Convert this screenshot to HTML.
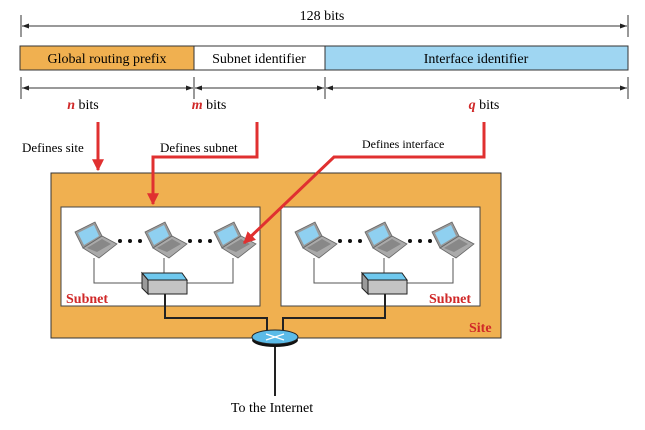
<!DOCTYPE html>
<html><head><style>body{margin:0;background:#fff}svg{display:block}text{font-family:"Liberation Serif",serif}</style></head>
<body>
<svg width="645" height="430" viewBox="0 0 645 430">
<defs>
<marker id="ah" viewBox="0 0 10 10" refX="10" refY="5" markerWidth="7" markerHeight="7" orient="auto-start-reverse"><path d="M0,1.5 L10,5 L0,8.5 z" fill="#222"/></marker>
<marker id="rh" viewBox="0 0 10 10" refX="9" refY="5" markerWidth="4" markerHeight="4" orient="auto"><path d="M0,0 L10,5 L0,10 z" fill="#e03030"/></marker>
<g id="lap">
<polygon points="0,10 20,0 27,14 8,26" fill="#999" stroke="#666" stroke-width="0.8"/>
<polygon points="3,11 19,3 24,14 9,23" fill="#8fd0f0"/>
<polygon points="8,26 27,14 42,22 24,36" fill="#aaa" stroke="#666" stroke-width="0.8"/>
<polygon points="12,26 27,17 36,22 22,30" fill="#888"/>
</g>
<g id="sw">
<polygon points="-23,-10 17,-10 22,-3 -17,-3" fill="#6ec8ee" stroke="#222" stroke-width="1"/>
<polygon points="-23,-10 -17,-3 -17,11 -23,5" fill="#9a9a9a" stroke="#222" stroke-width="1"/>
<rect x="-17" y="-3" width="39" height="14" fill="#c4c4c4" stroke="#222" stroke-width="1"/>
</g>
</defs>
<!-- top -->
<text x="322" y="20" font-size="14" text-anchor="middle">128 bits</text>
<line x1="21" y1="15" x2="21" y2="37" stroke="#333"/>
<line x1="628" y1="15" x2="628" y2="37" stroke="#333"/>
<line x1="22" y1="26" x2="627" y2="26" stroke="#333" marker-start="url(#ah)" marker-end="url(#ah)"/>
<rect x="20" y="46" width="174" height="24" fill="#f0b050" stroke="#333"/>
<rect x="194" y="46" width="131" height="24" fill="#fff" stroke="#333"/>
<rect x="325" y="46" width="303" height="24" fill="#9fd6f2" stroke="#333"/>
<text x="107" y="63" font-size="14" text-anchor="middle">Global routing prefix</text>
<text x="259" y="63" font-size="14" text-anchor="middle">Subnet identifier</text>
<text x="476" y="63" font-size="14" text-anchor="middle">Interface identifier</text>
<g stroke="#333">
<line x1="21" y1="77" x2="21" y2="99"/><line x1="194" y1="77" x2="194" y2="99"/><line x1="325" y1="77" x2="325" y2="99"/><line x1="628" y1="77" x2="628" y2="99"/>
<line x1="22" y1="88" x2="193" y2="88" marker-start="url(#ah)" marker-end="url(#ah)"/>
<line x1="195" y1="88" x2="324" y2="88" marker-start="url(#ah)" marker-end="url(#ah)"/>
<line x1="326" y1="88" x2="627" y2="88" marker-start="url(#ah)" marker-end="url(#ah)"/>
</g>
<text x="83" y="109" font-size="14" text-anchor="middle"><tspan fill="#d02828" font-weight="bold" font-style="italic">n</tspan> bits</text>
<text x="209" y="109" font-size="14" text-anchor="middle"><tspan fill="#d02828" font-weight="bold" font-style="italic">m</tspan> bits</text>
<text x="484" y="109" font-size="14" text-anchor="middle"><tspan fill="#d02828" font-weight="bold" font-style="italic">q</tspan> bits</text>
<text x="22" y="152" font-size="13">Defines site</text>
<text x="160" y="152" font-size="13">Defines subnet</text>
<text x="362" y="148" font-size="12">Defines interface</text>
<!-- site -->
<rect x="51" y="173" width="450" height="165" fill="#f0b050" stroke="#333"/>
<rect x="61" y="207" width="199" height="99" fill="#fff" stroke="#444"/>
<rect x="281" y="207" width="199" height="99" fill="#fff" stroke="#444"/>
<!-- subnet wiring -->
<g stroke="#555" fill="none" stroke-width="1">
<polyline points="94,258 94,283 233,283 233,258"/><line x1="164" y1="258" x2="164" y2="283"/>
<polyline points="314,258 314,283 453,283 453,258"/><line x1="384" y1="258" x2="384" y2="283"/>
</g>
<g stroke="#222" fill="none" stroke-width="2">
<polyline points="165,294 165,318 267,318 267,333"/>
<polyline points="385,294 385,318 283,318 283,333"/>
<line x1="275" y1="345" x2="275" y2="396"/>
</g>
<use href="#lap" x="75" y="222"/><use href="#lap" x="145" y="222"/><use href="#lap" x="214" y="222"/>
<use href="#lap" x="295" y="222"/><use href="#lap" x="365" y="222"/><use href="#lap" x="432" y="222"/>
<g fill="#111">
<circle cx="120" cy="241" r="2"/><circle cx="130" cy="241" r="2"/><circle cx="140" cy="241" r="2"/>
<circle cx="190" cy="241" r="2"/><circle cx="200" cy="241" r="2"/><circle cx="210" cy="241" r="2"/>
<circle cx="340" cy="241" r="2"/><circle cx="350" cy="241" r="2"/><circle cx="360" cy="241" r="2"/>
<circle cx="410" cy="241" r="2"/><circle cx="420" cy="241" r="2"/><circle cx="430" cy="241" r="2"/>
</g>
<use href="#sw" x="165" y="283"/><use href="#sw" x="385" y="283"/>
<!-- router -->
<ellipse cx="275" cy="340" rx="23" ry="7" fill="#111"/>
<ellipse cx="275" cy="337" rx="23" ry="7" fill="#5bbbe8" stroke="#222"/>
<g stroke="#fff" stroke-width="1.2"><line x1="266" y1="334" x2="284" y2="340"/><line x1="266" y1="340" x2="284" y2="334"/></g>
<text x="272" y="412" font-size="14" text-anchor="middle">To the Internet</text>
<text x="66" y="303" font-size="14" font-weight="bold" fill="#d02828">Subnet</text>
<text x="429" y="303" font-size="14" font-weight="bold" fill="#d02828">Subnet</text>
<text x="469" y="332" font-size="14" font-weight="bold" fill="#d02828">Site</text>
<!-- red arrows -->
<g stroke="#e03030" stroke-width="3" fill="none">
<polyline points="98,122 98,170" marker-end="url(#rh)"/>
<polyline points="257,122 257,157 153,157 153,204" marker-end="url(#rh)"/>
<polyline points="484,122 484,157 334,157 244,243" marker-end="url(#rh)"/>
</g>
</svg>
</body></html>
